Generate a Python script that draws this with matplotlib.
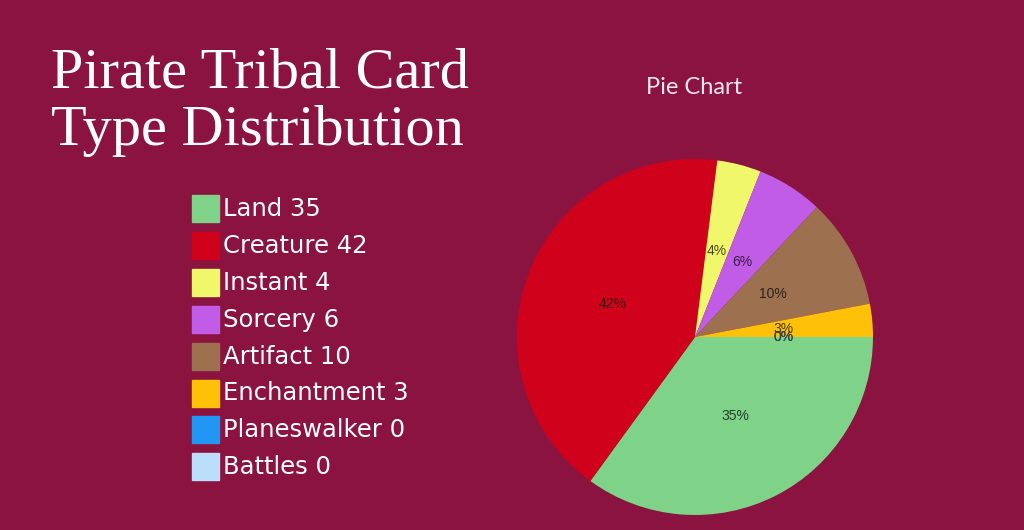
import matplotlib.pyplot as plt
from matplotlib.patches import Rectangle
from matplotlib.colors import to_rgb

# card type counts
categories = ['Land', 'Creature', 'Instant', 'Sorcery', 'Artifact',
              'Enchantment', 'Planeswalker', 'Battles']
counts = [35, 42, 4, 6, 10, 3, 0, 0]
colors = ['#7ed389', '#d0021b', '#f1f76a', '#c05ce6', '#9d7150',
          '#ffc107', '#2196f3', '#bbdefb']

BG = '#8a1340'

fig = plt.figure(figsize=(10.24, 5.3), dpi=100, facecolor=BG)

# big title
fig.text(0.05, 1 - 145 / 530, 'Pirate Tribal Card\nType Distribution', color='white',
         fontsize=42, family='Liberation Serif', linespacing=1.15,
         va='baseline', ha='left')

# legend drawn by hand
for i, (cat, n, c) in enumerate(zip(categories, counts, colors)):
    y = 530 - 209 - i * 36.9
    fig.patches.append(Rectangle((192 / 1024, (y - 13) / 530), 27 / 1024, 27 / 530,
                                 transform=fig.transFigure, color=c))
    fig.text(223 / 1024, y / 530, f'{cat} {n}', color='white', fontsize=17.5,
             family='DejaVu Sans', va='center', ha='left')

# the pie
ax = fig.add_axes([(695 - 178) / 1024, 15 / 530, 356 / 1024, 356 / 530])
ax.set_facecolor(BG)
total = sum(counts)
wedges, texts = ax.pie(counts, colors=colors, startangle=0, counterclock=False,
                       labels=[f'{round(n / total * 100)}%' for n in counts],
                       labeldistance=0.5, radius=1,
                       textprops=dict(fontsize=10, family='Liberation Sans'))
for t, c in zip(texts, colors):
    r, g, b = to_rgb(c)
    t.set_color((r * 0.3, g * 0.3, b * 0.3))
    t.set_ha('center')
ax.set_xlim(-1, 1)
ax.set_ylim(-1, 1)
ax.set_aspect('equal')

fig.text(694 / 1024, 1 - 88 / 530, 'Pie Chart', color='#f3e6ea', fontsize=17,
         family='Lato', ha='center', va='center')

fig.savefig('out.png', dpi=100, facecolor=BG)
